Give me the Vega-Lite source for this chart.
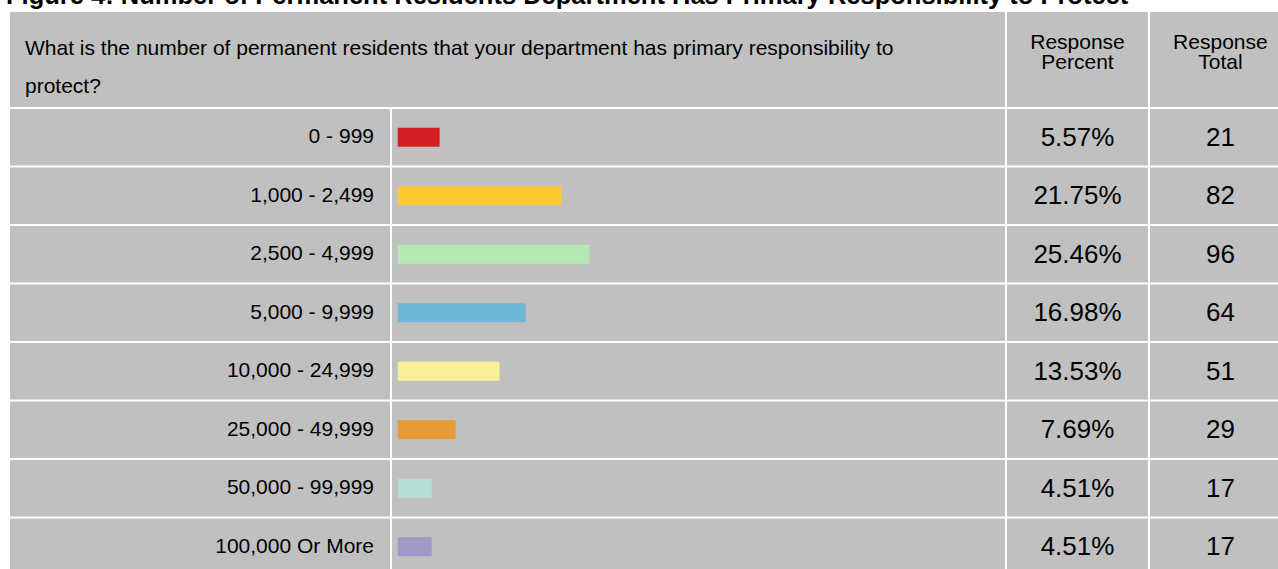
{
  "$schema": "https://vega.github.io/schema/vega-lite/v6.json",
  "background": "white",
  "padding": {"left": 6, "top": -17, "right": 0, "bottom": 0},
  "title": {
    "text": "Figure 4: Number of Permanent Residents Department Has Primary Responsibility to Protect",
    "anchor": "start",
    "font": "Liberation Sans",
    "fontSize": 25.5,
    "fontWeight": "bold",
    "color": "#000000",
    "offset": 3,
    "dx": -4
  },
  "config": {
    "view": {"stroke": null},
    "font": "Liberation Sans",
    "concat": {"spacing": 2}
  },
  "datasets": {
    "rows": [
      {"range": "0 - 999", "share": 0.0557, "total": 21},
      {"range": "1,000 - 2,499", "share": 0.2175, "total": 82},
      {"range": "2,500 - 4,999", "share": 0.2546, "total": 96},
      {"range": "5,000 - 9,999", "share": 0.1698, "total": 64},
      {"range": "10,000 - 24,999", "share": 0.1353, "total": 51},
      {"range": "25,000 - 49,999", "share": 0.0769, "total": 29},
      {"range": "50,000 - 99,999", "share": 0.0451, "total": 17},
      {"range": "100,000 Or More", "share": 0.0451, "total": 17}
    ]
  },
  "spacing": 2,
  "vconcat": [
    {
      "spacing": 2,
      "bounds": "flush",
      "resolve": {"scale": {"x": "independent", "y": "independent"}},
      "hconcat": [
        {
          "width": 995,
          "height": 95,
          "view": {"fill": "#C0C0C0", "stroke": null},
          "data": {"values": [{"t": "What is the number of permanent residents that your department has primary responsibility to\nprotect?"}]},
          "mark": {"type": "text", "align": "left", "baseline": "alphabetic", "dx": 15, "dy": -5, "fontSize": 21, "lineBreak": "\n", "lineHeight": 38, "color": "#000000"},
          "encoding": {
            "x": {"datum": 0, "type": "quantitative", "axis": null, "scale": {"domain": [0, 1]}},
            "y": {"datum": 0.5, "type": "quantitative", "axis": null, "scale": {"domain": [0, 1]}},
            "text": {"field": "t"}
          }
        },
        {
          "width": 141,
          "height": 95,
          "view": {"fill": "#C0C0C0", "stroke": null},
          "data": {"values": [{"t": "Response\nPercent"}]},
          "mark": {"type": "text", "align": "center", "baseline": "alphabetic", "dy": -11, "fontSize": 21, "lineBreak": "\n", "lineHeight": 20.3, "color": "#000000"},
          "encoding": {
            "x": {"datum": 0.5, "type": "quantitative", "axis": null, "scale": {"domain": [0, 1]}},
            "y": {"datum": 0.5, "type": "quantitative", "axis": null, "scale": {"domain": [0, 1]}},
            "text": {"field": "t"}
          }
        },
        {
          "width": 128,
          "height": 95,
          "view": {"fill": "#C0C0C0", "stroke": null},
          "data": {"values": [{"t": "Response\nTotal"}]},
          "mark": {"type": "text", "align": "center", "baseline": "alphabetic", "dy": -11, "fontSize": 21, "lineBreak": "\n", "lineHeight": 20.3, "color": "#000000"},
          "encoding": {
            "x": {"datum": 0.55, "type": "quantitative", "axis": null, "scale": {"domain": [0, 1]}},
            "y": {"datum": 0.5, "type": "quantitative", "axis": null, "scale": {"domain": [0, 1]}},
            "text": {"field": "t"}
          }
        }
      ]
    },
    {
      "spacing": 2,
      "bounds": "flush",
      "resolve": {"scale": {"x": "independent", "y": "independent", "color": "independent"}},
      "hconcat": [
        {
          "width": 380,
          "height": 461,
          "data": {"name": "rows"},
          "layer": [
            {
              "mark": {"type": "rect", "color": "#C0C0C0", "clip": true},
              "encoding": {
                "y": {"field": "range", "type": "nominal", "sort": null, "axis": null, "scale": {"range": [0, 466], "paddingInner": 0.034, "paddingOuter": 0}},
                "x": {"datum": 0, "type": "quantitative", "axis": null, "scale": {"domain": [0, 1]}},
                "x2": {"datum": 1}
              }
            },
            {
              "mark": {"type": "text", "align": "right", "baseline": "middle", "dx": -16, "dy": 0, "fontSize": 21, "color": "#000000"},
              "encoding": {
                "y": {"field": "range", "type": "nominal", "sort": null, "axis": null},
                "x": {"datum": 1, "type": "quantitative"},
                "text": {"field": "range"}
              }
            }
          ]
        },
        {
          "width": 613,
          "height": 461,
          "data": {"name": "rows"},
          "layer": [
            {
              "mark": {"type": "rect", "color": "#C0C0C0", "clip": true},
              "encoding": {
                "y": {"field": "range", "type": "nominal", "sort": null, "axis": null, "scale": {"range": [0, 466], "paddingInner": 0.034, "paddingOuter": 0}},
                "x": {"datum": -0.0076, "type": "quantitative", "axis": null, "scale": {"domain": [-0.0076, 0.8065], "nice": false, "zero": false}},
                "x2": {"datum": 0.8065}
              }
            },
            {
              "mark": {"type": "bar", "height": 19, "clip": true},
              "encoding": {
                "y": {"field": "range", "type": "nominal", "sort": null, "axis": null},
                "x": {"field": "share", "type": "quantitative"},
                "x2": {"datum": 0},
                "color": {
                  "field": "range",
                  "type": "nominal",
                  "sort": null,
                  "legend": null,
                  "scale": {
                    "domain": ["0 - 999", "1,000 - 2,499", "2,500 - 4,999", "5,000 - 9,999", "10,000 - 24,999", "25,000 - 49,999", "50,000 - 99,999", "100,000 Or More"],
                    "range": ["#D42024", "#FFC933", "#B4E9B2", "#6AB8D3", "#F5F194", "#E89938", "#B5DCD5", "#A098C9"]
                  }
                }
              }
            }
          ]
        },
        {
          "width": 141,
          "height": 461,
          "data": {"name": "rows"},
          "layer": [
            {
              "mark": {"type": "rect", "color": "#C0C0C0", "clip": true},
              "encoding": {
                "y": {"field": "range", "type": "nominal", "sort": null, "axis": null, "scale": {"range": [0, 466], "paddingInner": 0.034, "paddingOuter": 0}},
                "x": {"datum": 0, "type": "quantitative", "axis": null, "scale": {"domain": [0, 1]}},
                "x2": {"datum": 1}
              }
            },
            {
              "mark": {"type": "text", "align": "center", "baseline": "middle", "dy": 0.5, "fontSize": 26, "color": "#000000"},
              "encoding": {
                "y": {"field": "range", "type": "nominal", "sort": null, "axis": null},
                "x": {"datum": 0.5, "type": "quantitative"},
                "text": {"field": "share", "type": "quantitative", "format": ".2%"}
              }
            }
          ]
        },
        {
          "width": 128,
          "height": 461,
          "data": {"name": "rows"},
          "layer": [
            {
              "mark": {"type": "rect", "color": "#C0C0C0", "clip": true},
              "encoding": {
                "y": {"field": "range", "type": "nominal", "sort": null, "axis": null, "scale": {"range": [0, 466], "paddingInner": 0.034, "paddingOuter": 0}},
                "x": {"datum": 0, "type": "quantitative", "axis": null, "scale": {"domain": [0, 1]}},
                "x2": {"datum": 1}
              }
            },
            {
              "mark": {"type": "text", "align": "center", "baseline": "middle", "dy": 0.5, "fontSize": 26, "color": "#000000"},
              "encoding": {
                "y": {"field": "range", "type": "nominal", "sort": null, "axis": null},
                "x": {"datum": 0.55, "type": "quantitative"},
                "text": {"field": "total", "type": "quantitative"}
              }
            }
          ]
        }
      ]
    }
  ]
}
